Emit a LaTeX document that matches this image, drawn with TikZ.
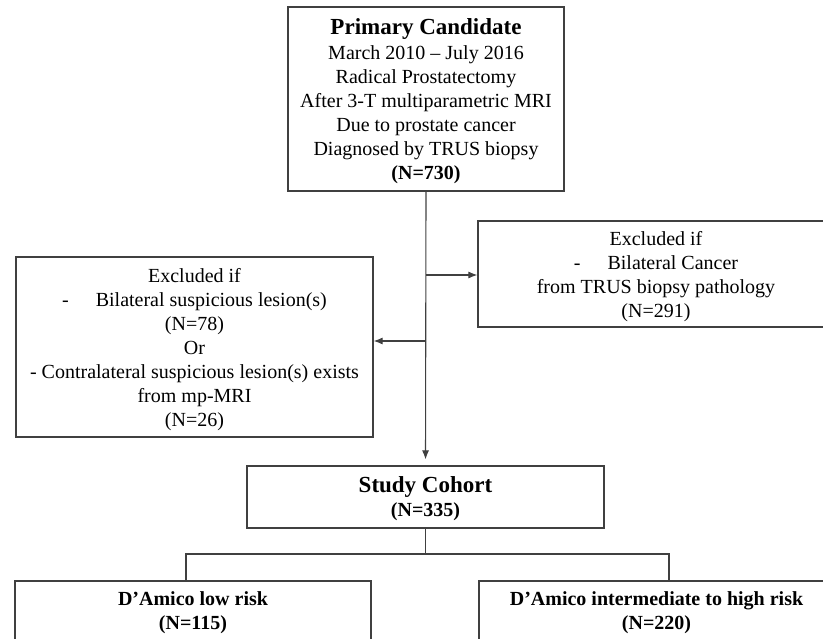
\documentclass[tikz,border=0pt]{standalone}
\usepackage{fontspec}
\setmainfont{Liberation Serif}
\usetikzlibrary{arrows.meta}
\begin{document}
\begin{tikzpicture}[x=1pt,y=-1pt,
  box/.style={draw=black!75, line width=1.2pt, inner sep=0pt, align=center,
    text depth=0pt, font=\fontsize{20}{24}\selectfont},
  conn/.style={draw=black!75, line width=1.1pt},
  arr/.style={conn, -{Latex[length=9pt,width=7pt]}}]
\useasboundingbox (0,0) rectangle (823,639);

\node[box, minimum width=276pt, minimum height=184pt] (prim) at (426,99)
  {{\fontsize{23}{25}\selectfont\bfseries Primary Candidate}\\[1pt]
   March 2010 – July 2016\\
   Radical Prostatectomy\\
   After 3-T multiparametric MRI\\
   Due to prostate cancer\\
   Diagnosed by TRUS biopsy\\
   \textbf{(N=730)}};

\node[box, minimum width=356pt, minimum height=106pt] (exR) at (656,274)
  {Excluded if\\
   -\hspace{27pt}Bilateral Cancer\\
   from TRUS biopsy pathology\\
   (N=291)};

\node[box, minimum width=357pt, minimum height=180pt] (exL) at (194.5,347)
  {Excluded if\\
   -\hspace{27pt}Bilateral suspicious lesion(s)\\
   (N=78)\\
   Or\\
   - Contralateral suspicious lesion(s) exists\\
   from mp-MRI\\
   (N=26)};

\node[box, minimum width=357pt, minimum height=62pt] (coh) at (425.5,497)
  {{\fontsize{23}{25}\selectfont\bfseries Study Cohort}\\
   \textbf{(N=335)}};

\node[box, minimum width=356pt, minimum height=60pt] (low) at (193,611)
  {\textbf{D’Amico low risk}\\ \textbf{(N=115)}};

\node[box, minimum width=355pt, minimum height=60pt] (high) at (656.5,611)
  {\textbf{D’Amico intermediate to high risk}\\ \textbf{(N=220)}};

\coordinate (jR) at (426,275);
\coordinate (jL) at (426,341);
\coordinate (bl) at (186,554);
\coordinate (br) at (669,554);

\draw[arr, shorten >=6pt] (prim.south) -- (coh.north);
\draw[arr] (jR) -- (jR -| exR.west);
\draw[arr] (jL) -- (jL -| exL.east);
\draw[conn] (coh.south) -- (coh.south |- bl);
\draw[conn] (bl |- low.north) -- (bl) -- (br) -- (br |- high.north);
\end{tikzpicture}
\end{document}
